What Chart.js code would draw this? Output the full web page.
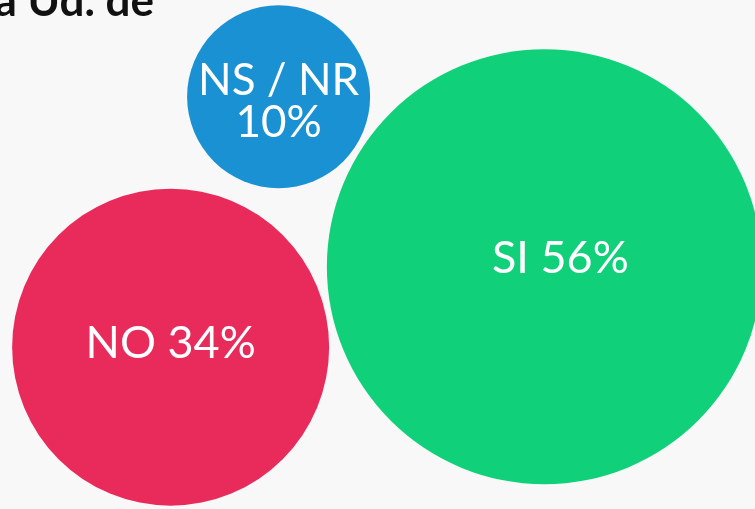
<!DOCTYPE html>
<html>
<head>
<meta charset="utf-8">
<script src="https://cdn.jsdelivr.net/npm/chart.js@4"></script>
<style>
  html, body { margin: 0; padding: 0; background: #f8f8f8; }
  #wrap { width: 755px; height: 509px; position: relative; }
  canvas { display: block; }
</style>
</head>
<body>
<div id="wrap"><canvas id="c" width="755" height="509"></canvas></div>
<script>
// Data
const categories = ['SI', 'NO', 'NS / NR'];
const percentages = [56, 34, 10];
const bubbleX = [72.1, 22.6, 36.9];
const bubbleY = [47.6, 31.8, 81.0];
const bubbleSize = [217.5, 158.5, 91.5];
const colors = ['#10d07a', '#e92b5c', '#1991d2'];
const titleText = 'a Ud. de';

const labelPlugin = {
  id: 'bubbleLabels',
  afterDatasetsDraw(chart) {
    const ctx = chart.ctx;
    const meta = chart.getDatasetMeta(0);
    ctx.save();
    ctx.fillStyle = '#ffffff';
    ctx.textAlign = 'center';
    ctx.textBaseline = 'alphabetic';
    meta.data.forEach((el, i) => {
      const cat = categories[i];
      const pct = percentages[i] + '%';
      if (cat.length > 3) {
        ctx.font = '400 44px Lato';
        ctx.fillText(cat, el.x, el.y - 1.5);
        ctx.fillText(pct, el.x, el.y + 40.5);
      } else {
        ctx.font = '400 45px Lato';
        const dx = i === 0 ? 16 : 0;
        const dy = i === 0 ? 6.5 : 11;
        ctx.fillText(cat + ' ' + pct, el.x + dx, el.y + dy);
      }
    });
    // cropped title
    ctx.fillStyle = '#111111';
    ctx.textAlign = 'right';
    ctx.font = '700 44px Lato';
    ctx.fillText(titleText, 154, 16);
    ctx.restore();
  }
};

new Chart(document.getElementById('c'), {
  type: 'bubble',
  data: {
    datasets: [{
      data: categories.map((c, i) => ({ x: bubbleX[i], y: bubbleY[i], r: bubbleSize[i] })),
      backgroundColor: colors,
      borderWidth: 0,
      hoverBorderWidth: 0,
      hoverRadius: 0,
      clip: false
    }]
  },
  options: {
    responsive: false,
    devicePixelRatio: 1,
    animation: false,
    events: [],
    layout: { padding: 0, autoPadding: false },
    plugins: { legend: { display: false }, tooltip: { enabled: false }, title: { display: false } },
    scales: {
      x: { type: 'linear', min: 0, max: 100, display: false },
      y: { type: 'linear', min: 0, max: 100, display: false }
    }
  },
  plugins: [labelPlugin]
});
</script>
</body>
</html>
